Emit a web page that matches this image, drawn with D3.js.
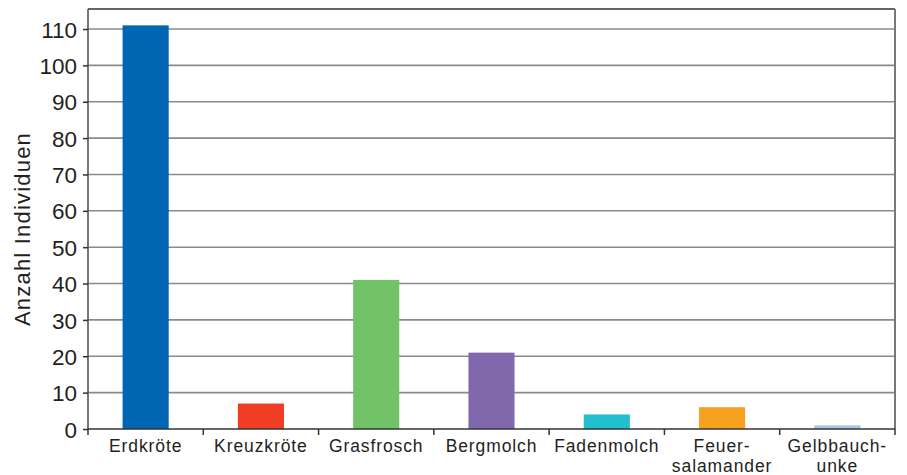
<!DOCTYPE html>
<html><head><meta charset="utf-8">
<script src="https://cdn.jsdelivr.net/npm/d3@7"></script>
<style>body{margin:0;background:#fff;} text{font-family:"Liberation Sans",Arial,Helvetica,sans-serif;fill:#231f20;}</style>
</head><body>
<svg id="c" width="907" height="475"></svg>
<script>
const categories = [["Erdkröte"],["Kreuzkröte"],["Grasfrosch"],["Bergmolch"],["Fadenmolch"],["Feuer-","salamander"],["Gelbbauch-","unke"]];
const values = [111, 7, 41, 21, 4, 6, 1];
const colors = ["#0066b3","#ef3e23","#72c267","#8068ad","#22bfce","#f7a11f","#a9c4e6"];
const yTicks = [0,10,20,30,40,50,60,70,80,90,100,110];
const yTitle = "Anzahl Individuen";

(function(){
const svg = d3.select("#c");
const L = 88, R = 895, B = 429;
const y = d3.scaleLinear().domain([0,110]).range([B, 29]);
const T = y(115.5);
const x = d3.scaleBand().domain(d3.range(categories.length)).range([L,R]).paddingInner(0.6).paddingOuter(0.3);

svg.append("g").selectAll("line").data(yTicks.filter(d=>d>0)).join("line")
  .attr("x1",L).attr("x2",R).attr("y1",d=>y(d)).attr("y2",d=>y(d))
  .attr("stroke","#8a8a8a").attr("stroke-width",1.6);
svg.append("line").attr("x1",L).attr("x2",R).attr("y1",T).attr("y2",T).attr("stroke","#333").attr("stroke-width",1.5);
svg.append("line").attr("x1",R).attr("x2",R).attr("y1",T).attr("y2",B).attr("stroke","#777").attr("stroke-width",2);

svg.append("g").selectAll("rect").data(values).join("rect")
  .attr("x",(d,i)=>x(i)).attr("width",x.bandwidth())
  .attr("y",d=>y(d)).attr("height",d=>B-y(d)).attr("fill",(d,i)=>colors[i]);

const ya = svg.append("g").attr("transform",`translate(${L},0)`)
  .call(d3.axisLeft(y).tickValues(yTicks).tickSize(5).tickPadding(6));
ya.select(".domain").attr("d",`M0,${T}V${B}`).attr("stroke","#555").attr("stroke-width",1.6);
ya.selectAll(".tick line").attr("stroke","#333").attr("stroke-width",1.5);
ya.selectAll(".tick text").attr("font-size",22.5).attr("fill","#231f20").attr("dy","0.36em");

const step = (R-L)/categories.length;
const xb = svg.append("g");
xb.append("line").attr("x1",L).attr("x2",R).attr("y1",B).attr("y2",B).attr("stroke","#333").attr("stroke-width",1.6);
xb.selectAll("line.t").data(d3.range(categories.length+1)).join("line").attr("class","t")
  .attr("x1",i=>L+i*step).attr("x2",i=>L+i*step).attr("y1",B).attr("y2",B+6)
  .attr("stroke","#333").attr("stroke-width",1.5);
xb.selectAll("text").data(categories).join("text")
  .attr("text-anchor","middle").attr("font-size",17.5).attr("letter-spacing",0.9)
  .each(function(d,i){
    const t=d3.select(this);
    d.forEach((s,k)=>t.append("tspan").attr("x",x(i)+x.bandwidth()/2).attr("y",452+k*20).text(s));
  });

svg.append("text").attr("transform","translate(30,229) rotate(-90)").attr("text-anchor","middle")
  .attr("font-size",22).attr("letter-spacing",1.2).text(yTitle);
})();
</script>
</body></html>
